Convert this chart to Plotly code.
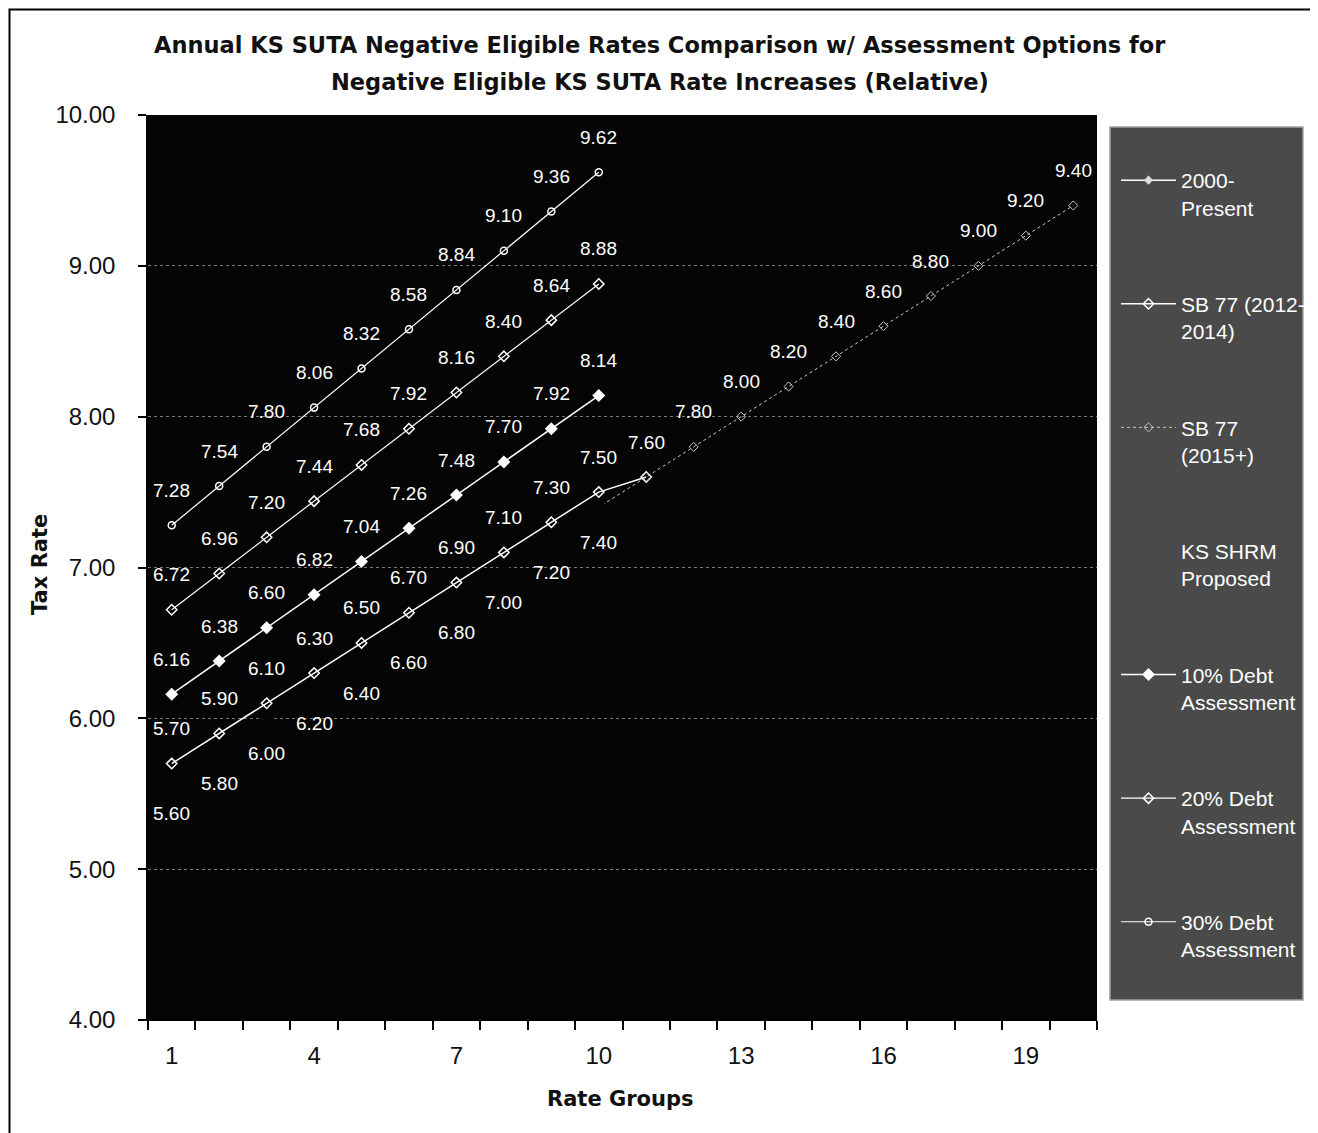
import plotly.graph_objects as go

# ---------------- data ----------------
groups_10 = [1, 2, 3, 4, 5, 6, 7, 8, 9, 10]
groups_11 = [1, 2, 3, 4, 5, 6, 7, 8, 9, 10, 11]
groups_20 = list(range(1, 21))

present_2000 = [5.60, 5.80, 6.00, 6.20, 6.40, 6.60, 6.80, 7.00, 7.20, 7.40]
sb77_2012 = [5.70, 5.90, 6.10, 6.30, 6.50, 6.70, 6.90, 7.10, 7.30, 7.50, 7.60]
sb77_2015 = [5.60, 5.80, 6.00, 6.20, 6.40, 6.60, 6.80, 7.00, 7.20, 7.40,
             7.60, 7.80, 8.00, 8.20, 8.40, 8.60, 8.80, 9.00, 9.20, 9.40]
debt_10 = [6.16, 6.38, 6.60, 6.82, 7.04, 7.26, 7.48, 7.70, 7.92, 8.14]
debt_20 = [6.72, 6.96, 7.20, 7.44, 7.68, 7.92, 8.16, 8.40, 8.64, 8.88]
debt_30 = [7.28, 7.54, 7.80, 8.06, 8.32, 8.58, 8.84, 9.10, 9.36, 9.62]

x_ticks = [1, 4, 7, 10, 13, 16, 19]
y_ticks = [4, 5, 6, 7, 8, 9, 10]

title_lines = ["Annual KS SUTA Negative Eligible Rates Comparison w/ Assessment Options for",
               "Negative Eligible KS SUTA Rate Increases (Relative)"]

# ---------------- geometry (page pixels -> paper) ----------------
OFF = 8  # default body margin of the html page
W, H = 1318 - OFF, 1133 - OFF
L, R, T, B = 148, 1097, 115, 1020   # plot area in page pixels
PW, PH = R - L, B - T


def px(x):
    return (x - L) / PW


def py(y):
    return (B - y) / PH


fig = go.Figure()
WHITE = "#ffffff"
BG = "#050505"

# legend-only entry for 2000-Present
fig.add_trace(go.Scatter(
    x=[None], y=[None], name="2000-<br>Present", mode="lines+markers",
    line=dict(color=WHITE, width=1.5),
    marker=dict(symbol="diamond", size=7, color="#dddddd"),
    legendgroup="g1"))

fig.add_trace(go.Scatter(
    x=groups_11, y=sb77_2012, name="SB 77 (2012-<br>2014)", mode="lines+markers",
    line=dict(color=WHITE, width=1.5),
    marker=dict(symbol="diamond-open", size=8, color=WHITE, line=dict(width=1.5)),
    legendgroup="g2"))

fig.add_trace(go.Scatter(
    x=groups_20, y=sb77_2015, name="SB 77<br>(2015+)", mode="lines+markers",
    line=dict(color="#c8c8c8", width=1, dash="dot"),
    marker=dict(symbol="diamond-open", size=7, color="#c8c8c8", line=dict(width=1)),
    legendgroup="g3"))

# 2000-Present as drawn in the plot (dark line, covers the first part of SB 77 2015+)
fig.add_trace(go.Scatter(
    x=groups_10, y=present_2000, name="2000-Present", mode="lines+markers",
    line=dict(color=BG, width=4), marker=dict(symbol="square", size=11, color=BG),
    showlegend=False, legendgroup="g1"))

fig.add_trace(go.Scatter(
    x=[None], y=[None], name="KS SHRM<br>Proposed", mode="lines",
    line=dict(color="rgba(0,0,0,0)", width=1),
    legendgroup="g4"))

fig.add_trace(go.Scatter(
    x=groups_10, y=debt_10, name="10% Debt<br>Assessment", mode="lines+markers",
    line=dict(color=WHITE, width=1.5),
    marker=dict(symbol="diamond", size=10, color=WHITE),
    legendgroup="g5"))

fig.add_trace(go.Scatter(
    x=groups_10, y=debt_20, name="20% Debt<br>Assessment", mode="lines+markers",
    line=dict(color=WHITE, width=1.2),
    marker=dict(symbol="diamond-open", size=8, color=WHITE, line=dict(width=1.5)),
    legendgroup="g6"))

fig.add_trace(go.Scatter(
    x=groups_10, y=debt_30, name="30% Debt<br>Assessment", mode="lines+markers",
    line=dict(color=WHITE, width=1.2),
    marker=dict(symbol="circle-open", size=7, color=WHITE, line=dict(width=1.5)),
    legendgroup="g7"))

# ---------------- data labels ----------------
annotations = []
LBL_FONT = dict(family="Liberation Sans, Arial, sans-serif", size=19, color=WHITE)


def add_labels(xs, ys, shift, skip=()):
    for xv, yv in zip(xs, ys):
        if xv in skip:
            continue
        annotations.append(dict(x=xv, y=yv, xref="x", yref="y", text=f"{yv:.2f}",
                                showarrow=False, yshift=shift, font=LBL_FONT,
                                xanchor="center", yanchor="middle"))


add_labels(groups_10, present_2000, -35)
add_labels(groups_11, sb77_2012, 35, skip=(11,))
add_labels(groups_20, sb77_2015, 35, skip=tuple(range(1, 11)))
add_labels(groups_10, debt_10, 35)
add_labels(groups_10, debt_20, 35)
add_labels(groups_10, debt_30, 35)

# titles
TITLE_FONT = dict(family="DejaVu Sans, Verdana, sans-serif", size=22.5, color="#111111")
for ypix, line in zip([45, 82], title_lines):
    annotations.append(dict(x=px(660), y=py(ypix), xref="paper", yref="paper",
                            text="<b>" + line + "</b>", showarrow=False, font=TITLE_FONT,
                            xanchor="center", yanchor="middle"))

AX_FONT = dict(family="DejaVu Sans, Verdana, sans-serif", size=21, color="#111111")
annotations.append(dict(x=px(40), y=py(565), xref="paper", yref="paper", text="<b>Tax Rate</b>",
                        textangle=-90, showarrow=False, font=AX_FONT,
                        xanchor="center", yanchor="middle"))
annotations.append(dict(x=px(620), y=py(1099), xref="paper", yref="paper", text="<b>Rate Groups</b>",
                        showarrow=False, font=AX_FONT, xanchor="center", yanchor="middle"))

shapes = [
    # legend panel
    dict(type="rect", xref="paper", yref="paper", x0=px(1110), x1=px(1303), y0=py(1000), y1=py(127),
         fillcolor="#4a4a4a", line=dict(color="#a0a0a0", width=1.5), layer="below"),
    # chart border
    dict(type="rect", xref="paper", yref="paper", x0=px(9.5), x1=px(1316), y0=py(1145), y1=py(9.5),
         fillcolor="rgba(0,0,0,0)", line=dict(color="#000000", width=2)),
]

TICK_FONT = dict(family="Liberation Sans, Arial, sans-serif", size=24, color="#111111")

fig.update_layout(
    width=W, height=H,
    margin=dict(l=L - OFF, r=W - (R - OFF), t=T - OFF, b=H - (B - OFF), autoexpand=False),
    paper_bgcolor="#ffffff", plot_bgcolor=BG,
    showlegend=True,
    legend=dict(x=px(1116), y=py(160), xanchor="left", yanchor="top",
                bgcolor="rgba(0,0,0,0)", borderwidth=0,
                font=dict(family="Liberation Sans, Arial, sans-serif", size=21, color=WHITE),
                itemwidth=55, tracegroupgap=66, valign="top", traceorder="grouped"),
    annotations=annotations, shapes=shapes,
    xaxis=dict(range=[0.5, 20.5], tickmode="array", tickvals=x_ticks,
               ticks="outside", ticklen=14, tickcolor="rgba(0,0,0,0)",
               tickfont=TICK_FONT, showgrid=False, zeroline=False,
               showline=True, linecolor="#000000", linewidth=1,
               minor=dict(tick0=0.5, dtick=1, ticks="outside", ticklen=9,
                          tickcolor="#000000", tickwidth=1.5, showgrid=False)),
    yaxis=dict(range=[4, 10], tickmode="array", tickvals=y_ticks, tickformat=".2f",
               ticks="outside", ticklen=8, tickcolor="#000000", tickwidth=1.5,
               ticklabelstandoff=18, tickfont=TICK_FONT,
               showgrid=True, gridcolor="#777777", griddash="dot", gridwidth=1,
               zeroline=False, showline=True, linecolor="#000000", linewidth=1.5),
)

fig.write_html("out.html")
